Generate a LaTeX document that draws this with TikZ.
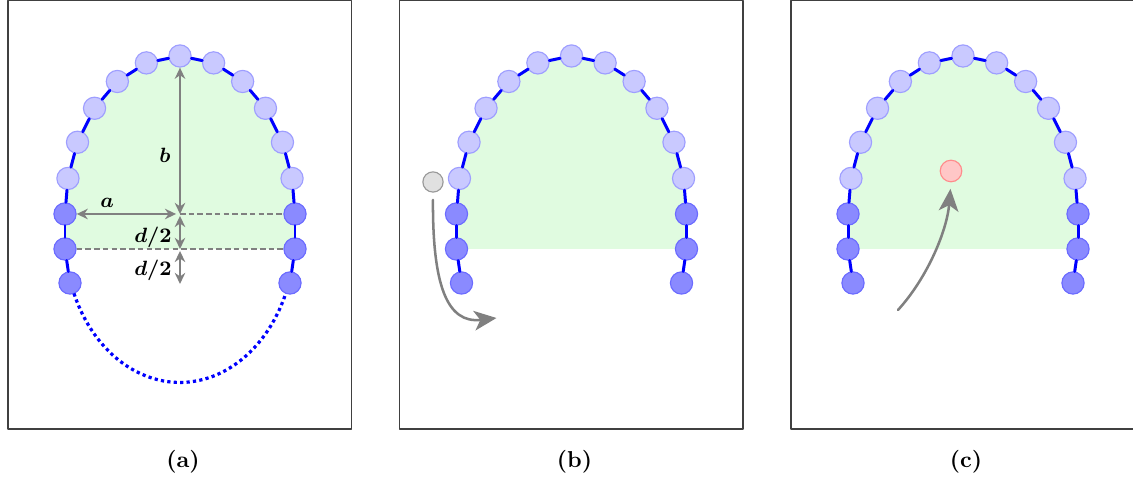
\documentclass[tikz,border=0pt]{standalone}
\usepackage{amsmath}
\usepackage{tikz}
\usetikzlibrary{arrows.meta}

\definecolor{cavgreen}{RGB}{224,251,224}

% chain of beads on half an ellipse, legs below
\newcommand{\beadchain}[1]{%
	\fill[cavgreen] (-11.5,0) arc[start angle=180, end angle=0, x radius=11.5, y radius=15.8]
		-- (11.5,-3.5) -- (-11.5,-3.5) -- cycle;
	\node[darkbead] (#1l1) at (-11.5,0) {};
	\node[darkbead] (#1l2) at (-11.5,-3.5) {};
	\node[darkbead] (#1l3) at (-11.0,-6.9) {};
	\node[darkbead] (#1r1) at (11.5,0) {};
	\node[darkbead] (#1r2) at (11.5,-3.5) {};
	\node[darkbead] (#1r3) at (11.0,-6.9) {};
	\foreach \ang [count=\i] in {167,153,138,123,107,90,73,57,42,27,13}
		\node[lightbead] (#1u\i) at ({11.5*cos(\ang)},{15.8*sin(\ang)}) {};
	\foreach \q [remember=\q as \p (initially l3)] in {l2,l1,u1,u2,u3,u4,u5,u6,u7,u8,u9,u10,u11,r1,r2,r3}
		\draw[chain] (#1\p) -- (#1\q);
}

\begin{document}
\begin{tikzpicture}[
						x=1.53mm, y=1.53mm,
						line cap=round,
						line join=round,
						frame/.style={draw=black!75, line width=0.8pt},
						chain/.style={blue, line width=1.3pt},
						lightbead/.style={circle, fill=blue!21, draw=blue!38, line width=0.5pt, minimum size=3.4mm, inner sep=0pt},
						darkbead/.style={circle, fill=blue!46, draw=blue!58, line width=0.5pt, minimum size=3.4mm, inner sep=0pt},
						dotchain/.style={blue, line width=1.4pt, line cap=butt, dash pattern=on 1.4pt off 1.4pt},
						dimarrow/.style={black!50, line width=1.2pt, {Stealth[length=1.7mm, width=1.6mm]}-{Stealth[length=1.7mm, width=1.6mm]}},
						dimline/.style={black!50, line width=1pt, line cap=butt, dash pattern=on 2.4pt off 1.4pt},
						dimlabel/.style={font=\small\boldmath, inner sep=1pt},
						move/.style={black!50, line width=1.1pt, -{Stealth[length=3.4mm, width=3mm, inset=0.9mm]}},
						sublabel/.style={font=\normalsize\bfseries}
						]
						
						\useasboundingbox (0,0) rectangle (113.3,47.7);
						
						% Left panel: sizes a, b, d
						\begin{scope}[shift={(18.0,26.3)}]
							\draw[frame] (-17.2,-21.5) rectangle (17.15,21.35);
							\beadchain{a}
							\draw[dotchain] (-10.6,-7.95) arc[start angle=203, end angle=337, x radius=11.5, y radius=14.6];
							\coordinate (aO) at (0,0);
							\coordinate (aP) at (0,-3.5);
							\coordinate (aQ) at (0,-7.0);
							\draw[dimline] (aO) -- (ar1);
							\draw[dimline] (al2) -- (ar2);
							\draw[dimarrow] (au6) -- (aO);
							\draw[dimarrow, shorten >=0.6mm] (al1) -- (aO);
							\draw[dimarrow, shorten <=0.3mm] (aO) -- (aP);
							\draw[dimarrow, shorten <=0.3mm] (aP) -- (aQ);
							\node[dimlabel] (lb) at (-1.5,5.9) {$b$};
							\node[dimlabel] (la) at (-7.3,1.1) {$a$};
							\node[dimlabel] (ld1) at (-2.7,-2.3) {$d/2$};
							\node[dimlabel] (ld2) at (-2.7,-5.6) {$d/2$};
							\node[sublabel] (capa) at (0.3,-24.8) {(a)};
						\end{scope}
						
						% Middle panel: bead leaves
						\begin{scope}[shift={(57.15,26.3)}]
							\draw[frame] (-17.2,-21.5) rectangle (17.15,21.35);
							\beadchain{b}
							\node[circle, fill=black!12, draw=black!40, line width=0.5pt, minimum size=3.1mm, inner sep=0pt] (bg) at (-13.85,3.2) {};
							\coordinate (bend) at (-7.5,-10.4);
							\draw[move, shorten <=1.1mm] (bg.south) .. controls (-13.9,-7) and (-12.5,-11) .. (bend);
							\node[sublabel] (capb) at (0.3,-24.8) {(b)};
						\end{scope}
						
						% Right panel: bead enters
						\begin{scope}[shift={(96.3,26.3)}]
							\draw[frame] (-17.2,-21.5) rectangle (17.15,21.35);
							\beadchain{c}
							\node[circle, fill=red!22, draw=red!45, line width=0.5pt, minimum size=3.3mm, inner sep=0pt] (cr) at (-1.2,4.3) {};
							\coordinate (cstart) at (-6.5,-9.6);
							\draw[move, shorten >=1mm] (cstart) .. controls (-3.5,-6.3) and (-1.6,-1.6) .. (cr.south);
							\node[sublabel] (capc) at (0.3,-24.8) {(c)};
						\end{scope}
						
					\end{tikzpicture}
\end{document}
